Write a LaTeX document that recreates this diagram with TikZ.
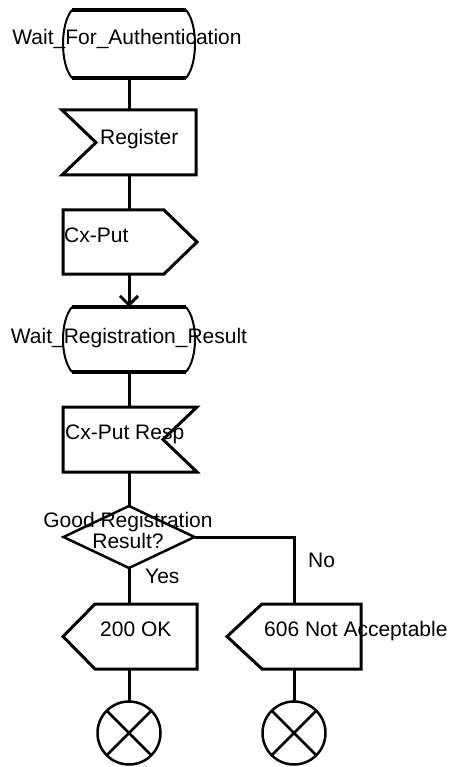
\documentclass[tikz,border=0pt]{standalone}
\usepackage{fontspec}
\setmainfont{Liberation Sans}
\usetikzlibrary{arrows.meta}
% SDL state symbol: thick top/bottom rules with bulging sides
\newcommand\sdlstate[1]{%
  \draw[line width=4pt] ([xshift=10pt]#1.north west) -- ([xshift=-10pt]#1.north east);
  \draw[line width=4pt] ([xshift=10pt]#1.south west) -- ([xshift=-10pt]#1.south east);
  \draw[line width=2pt] ([xshift=10pt]#1.north west)
    .. controls ([xshift=-2pt,yshift=-14pt]#1.north west) and ([xshift=-2pt,yshift=14pt]#1.south west)
    .. ([xshift=10pt]#1.south west);
  \draw[line width=2pt] ([xshift=-10pt]#1.north east)
    .. controls ([xshift=2pt,yshift=-14pt]#1.north east) and ([xshift=2pt,yshift=14pt]#1.south east)
    .. ([xshift=-10pt]#1.south east);
}
\begin{document}
\begin{tikzpicture}[x=1pt,y=-1pt,
  box/.style={draw=none,inner sep=0pt,outer sep=0pt,minimum width=134pt,minimum height=65pt},
  ln/.style={line width=3pt},
  txt/.style={inner sep=0pt,font=\fontsize{21}{21}\selectfont},
  endsym/.style={circle,draw,line width=2.5pt,inner sep=0pt,outer sep=0pt,minimum size=63pt}]
\useasboundingbox (0,0) rectangle (452,767);

% symbol frames
\node[box,minimum height=68pt] (s1) at (129,44) {};
\node[box] (reg) at (129,142.5) {};
\node[box,minimum height=64pt] (cxp) at (130,242) {};
\node[box] (s2) at (129,339.5) {};
\node[box] (resp) at (130,439.5) {};
\node[box,minimum width=131pt,minimum height=62pt] (dec) at (129,537) {};
\node[box] (ok) at (130,636.5) {};
\node[box] (na) at (294,636.5) {};
\node[endsym] (e1) at (129,733) {};
\node[endsym] (e2) at (294,733) {};

% states
\sdlstate{s1}
\sdlstate{s2}

% input signals
\draw[ln] (reg.north west) -- (reg.north east) -- (reg.south east) -- (reg.south west)
  -- ([xshift=34pt]reg.west) -- cycle;
\draw[ln] (resp.north west) -- (resp.north east) -- ([xshift=-34pt]resp.east)
  -- (resp.south east) -- (resp.south west) -- cycle;

% output signals
\draw[ln] (cxp.north west) -- ([xshift=-33pt]cxp.north east) -- (cxp.east)
  -- ([xshift=-33pt]cxp.south east) -- (cxp.south west) -- cycle;
\draw[ln] (ok.north east) -- ([xshift=32pt]ok.north west) -- (ok.west)
  -- ([xshift=32pt]ok.south west) -- (ok.south east) -- cycle;
\draw[ln] (na.north east) -- ([xshift=35pt]na.north west) -- (na.west)
  -- ([xshift=35pt]na.south west) -- (na.south east) -- cycle;

% decision
\draw[line width=2.5pt] (dec.north) -- (dec.east) -- (dec.south) -- (dec.west) -- cycle;

% stop symbols
\draw[line width=2.5pt] (e1.north west) -- (e1.south east) (e1.north east) -- (e1.south west);
\draw[line width=2.5pt] (e2.north west) -- (e2.south east) (e2.north east) -- (e2.south west);

% flow lines
\draw[ln] (s1.south) -- (s1.south |- reg.north);
\draw[ln] (reg.south) -- (reg.south |- cxp.north);
\draw[ln,-{Straight Barb[length=9pt,width=18pt]}] (cxp.south -| s2.north) -- (s2.north);
\draw[ln] (s2.south) -- (s2.south |- resp.north);
\draw[ln] (resp.south -| dec.north) -- (dec.north);
\draw[ln] (dec.south) -- (dec.south |- ok.north);
\draw[ln] (dec.east) -| (na.north);
\draw[ln] (ok.south -| e1.north) -- (e1.north);
\draw[ln] (na.south) -- (e2.north);

% texts
\node[txt,anchor=base] (t1) at (127,45) {Wait\_For\_Authentication};
\node[txt,anchor=base west] (t2) at (100,145) {Register};
\node[txt,anchor=base west] (t3) at (64,242) {Cx-Put};
\node[txt,anchor=base] (t4) at (129,343) {Wait\_Registration\_Result};
\node[txt,anchor=base west] (t5) at (65,439) {Cx-Put Resp};
\node[txt,align=center] (t6) at (128,530.5) {Good Registration\\Result?};
\node[txt,anchor=base west] (yes) at (145,583) {Yes};
\node[txt,anchor=base west] (no) at (308,567) {No};
\node[txt,anchor=base west] (t7) at (100,636) {200 OK};
\node[txt,anchor=base west] (t8) at (264,636) {606 Not Acceptable};
\end{tikzpicture}
\end{document}
